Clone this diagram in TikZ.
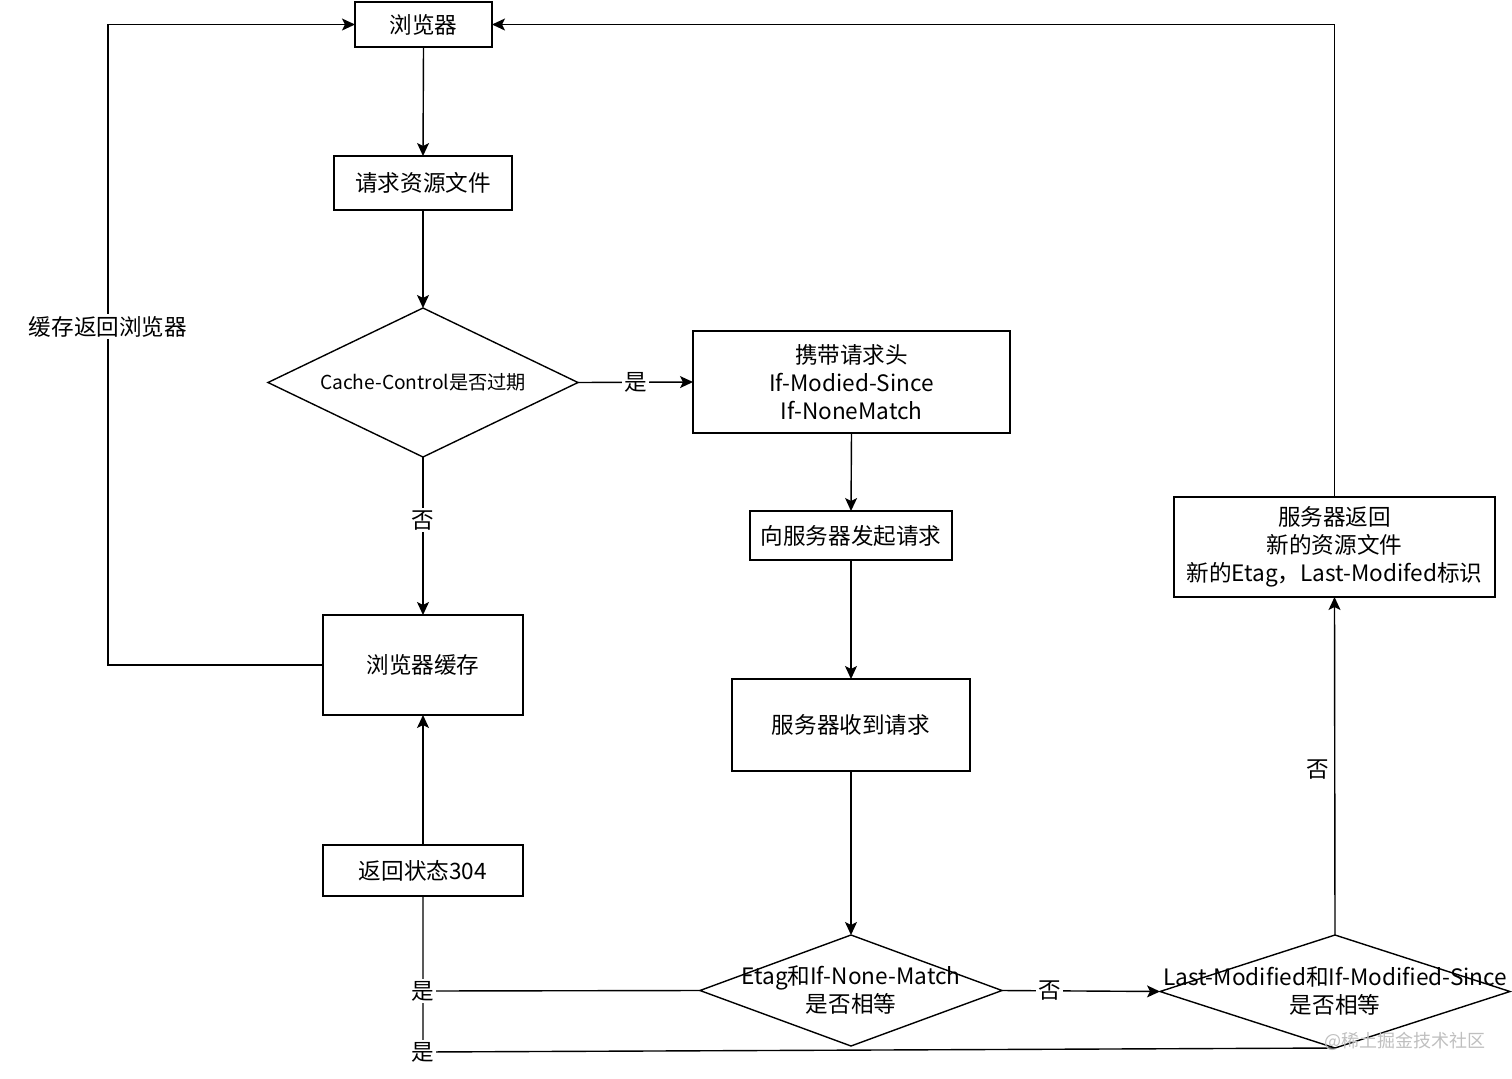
\documentclass[tikz,border=0pt]{standalone}
\usepackage{fontspec}
\setmainfont{Noto Sans CJK SC}
\usetikzlibrary{arrows.meta,shapes.geometric}
\begin{document}
\begin{tikzpicture}[x=0.5pt,y=-0.5pt,
  box/.style={draw,line width=0.7pt,rectangle,inner sep=0pt,outer sep=0pt,align=center,font=\fontsize{11.3pt}{14pt}\selectfont},
  dia/.style={draw,line width=0.7pt,diamond,inner sep=0pt,outer sep=0pt},
  dtext/.style={align=center,inner sep=0pt,font=\fontsize{11.3pt}{14pt}\selectfont},
  conn/.style={line width=0.7pt},
  arr/.style={conn,-{Stealth[length=6.5pt,width=6pt,inset=1.5pt]}},
  lbl/.style={fill=white,inner sep=1pt,font=\fontsize{11.3pt}{14pt}\selectfont}]
\useasboundingbox (0,0) rectangle (1512,1078);

\node[box,minimum width=68.5pt,minimum height=22.5pt] (b0) at (423.5,24.5) {浏览器};
\node[box,minimum width=89pt,minimum height=27pt] (b1) at (423,183) {请求资源文件};
\node[dia,minimum width=155pt,minimum height=74.5pt] (d1) at (423,382.5) {};
\node[dtext,font=\fontsize{9.6pt}{12pt}\selectfont] (t1) at (d1) {Cache-Control是否过期};
\node[box,minimum width=158.5pt,minimum height=51pt] (b2) at (851.5,382) {携带请求头\\If-Modied-Since\\If-NoneMatch};
\node[box,minimum width=101pt,minimum height=24.5pt] (b3) at (851,535.5) {向服务器发起请求};
\node[box,minimum width=119pt,minimum height=46pt] (b4) at (851,725) {服务器收到请求};
\node[dia,minimum width=151pt,minimum height=55.5pt] (d2) at (851,990.5) {};
\node[dtext] (t2) at (d2) {Etag和If-None-Match\\是否相等};
\node[dia,minimum width=175pt,minimum height=56.5pt] (d3) at (1335,991.5) {};
\node[dtext] (t3) at (d3) {Last-Modified和If-Modified-Since\\是否相等};
\node[box,minimum width=160.5pt,minimum height=50pt] (b5) at (1334.5,547) {服务器返回\\新的资源文件\\新的Etag，Last-Modifed标识};
\node[box,minimum width=100pt,minimum height=50pt] (b6) at (423,665) {浏览器缓存};
\node[box,minimum width=100pt,minimum height=25.5pt] (b7) at (423,870.5) {返回状态304};

\coordinate (c1) at (108,665);
\coordinate (j1) at (423,991);
\coordinate (j2) at (423,1052);

\draw[arr] (b0.south) -- (b1.north);
\draw[arr] (b1.south) -- (d1.north);
\draw[arr] (d1.east) -- node[lbl] (l1) {是} (b2.west);
\draw[arr] (d1.south) -- node[lbl,pos=0.4] (l2) {否} (b6.north);
\draw[arr] (b6.west) -- (c1) |- node[lbl,pos=0.264] (l3) {缓存返回浏览器} (b0.west);
\draw[arr] (b2.south) -- (b3.north);
\draw[arr] (b3.south) -- (b4.north);
\draw[arr] (b4.south) -- (d2.north);
\draw[arr] (d2.east) -- node[lbl,pos=0.3] (l4) {否} (d3.west);
\draw[arr] (d3.north) -- (b5.south);
\node[lbl] (l5) at (1318,770) {否};
\draw[arr] (b5.north) |- (b0.east);
\draw[arr] (b7.north) -- (b6.south);
\draw[conn] (d2.west) -- (j1) -- (b7.south);
\draw[conn] (d3.south) -- (j2) -- (j1);
\node[lbl] (l6) at (j1) {是};
\node[lbl] (l7) at (j2) {是};
\node[text=black!25,font=\fontsize{9pt}{10pt}\selectfont,inner sep=0pt] (wm) at (1405,1041) {@稀土掘金技术社区};
\end{tikzpicture}
\end{document}
